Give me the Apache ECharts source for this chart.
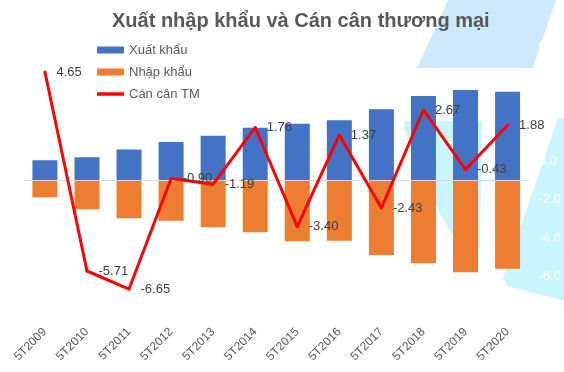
<!DOCTYPE html>
<html>
<head>
<meta charset="utf-8">
<script src="https://cdn.jsdelivr.net/npm/echarts@6/dist/echarts.min.js"></script>
<style>
html,body{margin:0;padding:0;background:#fff;}
#chart{width:564px;height:372px;}
</style>
</head>
<body>
<div id="chart"></div>
<script>
var categories = ['5T2009','5T2010','5T2011','5T2012','5T2013','5T2014','5T2015','5T2016','5T2017','5T2018','5T2019','5T2020'];
var exportVals = [22.6, 25.9, 34.6, 42.8, 50.0, 58.9, 63.3, 67.1, 79.4, 94.2, 100.9, 99.0];
var importVals = [-18.7, -32.1, -42.2, -44.8, -52.2, -57.8, -67.8, -67.1, -83.1, -92.3, -102.4, -98.4];
var balanceVals = [4.65, -5.71, -6.65, -0.90, -1.19, 1.76, -3.40, 1.37, -2.43, 2.67, -0.43, 1.88];
var rightTicks = { min: -8, max: 6, interval: 2 };

var FONT = 'Liberation Sans, Arial, sans-serif';
var chart = echarts.init(document.getElementById('chart'), null, { renderer: 'canvas' });

var option = {
  backgroundColor: '#ffffff',
  animation: false,
  graphic: [
    { type: 'polygon', z: -10, silent: true,
      shape: { points: [[448,0],[556,0],[533,68],[417,68]] },
      style: { fill: '#cde9fa' } },
    { type: 'polygon', z: -10, silent: true,
      shape: { points: [[405,121],[482,121],[480,248],[460,248],[440,214],[416,160],[404,128]] },
      style: { fill: '#c9f5fc' } },
    { type: 'polygon', z: -10, silent: true,
      shape: { points: [[558,118],[580,118],[580,305],[564,301],[508,286],[503,278]] },
      style: { fill: '#c9f5fc' } }
  ],
  title: {
    text: 'Xuất nhập khẩu và Cán cân thương mại',
    left: 107,
    top: 6,
    textStyle: { fontFamily: FONT, fontSize: 20, fontWeight: 'bold', color: '#595959' }
  },
  legend: {
    orient: 'vertical',
    left: 92,
    top: 38.5,
    itemWidth: 27,
    itemHeight: 7,
    itemGap: 9,
    icon: 'rect',
    textStyle: { fontFamily: FONT, fontSize: 13, color: '#595959' },
    data: [
      { name: 'Xuất khẩu', icon: 'rect' },
      { name: 'Nhập khẩu', icon: 'rect' },
      { name: 'Cán cân TM', icon: 'path://M0,0 L27,0 L27,3.5 L0,3.5 Z', itemStyle: { color: '#ff0000' } }
    ]
  },
  grid: { left: 23.9, right: 27.9, top: 46, height: 269 },
  xAxis: {
    type: 'category',
    data: categories,
    axisLine: { show: false },
    axisTick: { show: false },
    axisLabel: { rotate: 45, margin: 15, fontFamily: FONT, fontSize: 12, color: '#595959', interval: 0 },
    splitLine: { show: false }
  },
  yAxis: [
    { type: 'value', min: -150, max: 150, show: false, splitLine: { show: false } },
    { type: 'value', position: 'right', min: rightTicks.min, max: rightTicks.max, interval: rightTicks.interval,
      axisLine: { show: false }, axisTick: { show: false }, splitLine: { show: false },
      axisLabel: { color: '#ffffff', fontFamily: FONT, fontSize: 13, margin: 10,
        formatter: function (v) { return v.toFixed(1); } } }
  ],
  series: [
    { name: 'Xuất khẩu', type: 'bar', yAxisIndex: 0, data: exportVals, barWidth: 25, barGap: '-100%',
      itemStyle: { color: '#4472c4' },
      markLine: { silent: true, symbol: ['none','none'], label: { show: false },
        lineStyle: { color: '#d9d9d9', width: 1, type: 'solid' }, data: [{ yAxis: 0 }] } },
    { name: 'Nhập khẩu', type: 'bar', yAxisIndex: 0, data: importVals, barWidth: 25, barGap: '-100%',
      itemStyle: { color: '#ed7d31' } },
    { name: 'Cán cân TM', type: 'line', yAxisIndex: 1, data: balanceVals, z: 5,
      symbol: 'circle', symbolSize: 3,
      itemStyle: { color: '#ff0000' },
      lineStyle: { color: '#ff0000', width: 3 },
      label: { show: true, position: 'right', distance: 10, fontFamily: FONT, fontSize: 13, color: '#404040',
        formatter: function (p) { return p.value.toFixed(2); } } }
  ]
};
chart.setOption(option);
</script>
</body>
</html>
